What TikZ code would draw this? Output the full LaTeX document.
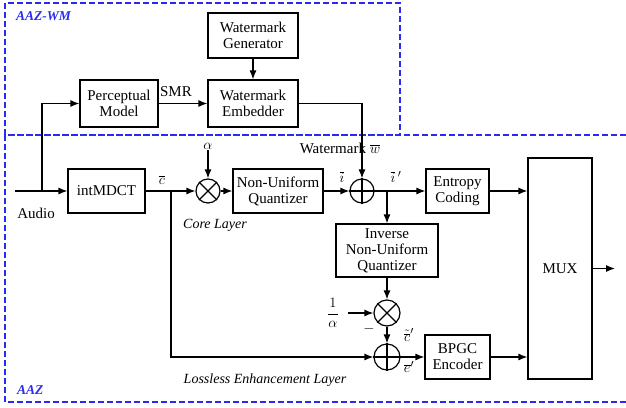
\documentclass[tikz,border=0pt]{standalone}
\usepackage{fontspec}
\setmainfont{Liberation Serif}
\usetikzlibrary{arrows.meta}
\definecolor{myframecolor}{HTML}{2B2BEE}

\begin{document}
\begin{tikzpicture}[x=1pt, y=-1pt,
  blk/.style={draw, line width=1.2pt, rectangle, align=center, inner sep=1pt, font=\fontsize{15pt}{16pt}\selectfont},
  opnode/.style={draw, line width=1.2pt, circle, minimum size=24pt, inner sep=0pt},
  lbl/.style={font=\fontsize{15pt}{16pt}\selectfont, inner sep=1pt},
  itlbl/.style={font=\fontsize{14pt}{15pt}\selectfont\itshape, inner sep=1pt},
  frame/.style={draw=myframecolor, line width=1.1pt, dash pattern=on 6pt off 3pt},
  framelbl/.style={text=myframecolor, font=\fontsize{13.5pt}{14pt}\selectfont\bfseries\itshape, inner sep=0pt},
  sig/.style={line width=1.2pt, -{Latex[length=9pt,width=7pt]}},
  wire/.style={line width=1.2pt}]%
\useasboundingbox (0,0) rectangle (626,407);%
\draw[frame] (5,135) rectangle (400,3);%
\draw[frame] (626,135) -- (5,135) -- (5,402) -- (626,402);%
\node[framelbl, anchor=west] (wmtitle) at (16,16) {AAZ-WM};%
\node[framelbl, anchor=west] (aaztitle) at (17,390) {AAZ};%
\node[blk, minimum width=90pt, minimum height=45pt] (gen) at (253,35.5) {Watermark\\Generator};%
\node[blk, minimum width=78pt, minimum height=47pt] (percep) at (119,103.5) {Perceptual\\Model};%
\node[blk, minimum width=90pt, minimum height=47pt] (embed) at (253,103.5) {Watermark\\Embedder};%
\node[blk, minimum width=77pt, minimum height=44pt] (mdct) at (106.5,191) {intMDCT};%
\node[blk, minimum width=90pt, minimum height=44pt] (nuq) at (278,191) {Non-Uniform\\Quantizer};%
\node[blk, minimum width=63pt, minimum height=44pt] (entropy) at (457.5,191) {Entropy\\Coding};%
\node[blk, minimum width=64pt, minimum height=221pt] (mux) at (560,268.5) {MUX};%
\node[blk, minimum width=102pt, minimum height=53pt] (inuq) at (387,250.5) {Inverse\\Non-Uniform\\Quantizer};%
\node[blk, minimum width=65pt, minimum height=44pt] (bpgc) at (457.5,357) {BPGC\\Encoder};%
\node[opnode] (mul1) at (208,191) {};%
\node[opnode] (add1) at (362,191) {};%
\node[opnode, minimum size=26pt] (mul2) at (387,313) {};%
\node[opnode, minimum size=26pt] (add2) at (387,357) {};%
\draw[wire] (mul1.north west) -- (mul1.south east) (mul1.north east) -- (mul1.south west);%
\draw[wire] (mul2.north west) -- (mul2.south east) (mul2.north east) -- (mul2.south west);%
\draw[wire] (add1.north) -- (add1.south) (add1.west) -- (add1.east);%
\draw[wire] (add2.north) -- (add2.south) (add2.west) -- (add2.east);%
\node[lbl] (alpha) at (208,146) {$\alpha$};%
\node[lbl] (inv) at (333,313) {$\displaystyle\frac{1}{\alpha}$};%
\node[lbl] (audiolbl) at (36,213) {Audio};%
\node[lbl] (smr) at (176,92) {SMR};%
\node[lbl] (wmlbl) at (340,148) {Watermark $\overline{w}$};%
\node[lbl] (cbar) at (162,180) {$\overline{c}$};%
\node[lbl] (ibar) at (342,177) {$\overline{i}$};%
\node[lbl] (ibarp) at (396,177) {$\overline{i}\,'$};%
\node[lbl] (minus) at (369,329) {$-$};%
\node[lbl] (ctil) at (409,335) {$\tilde{\overline{c}}'$};%
\node[lbl] (ebar) at (409,367) {$\overline{e}'$};%
\node[itlbl] (core) at (215,225) {Core Layer};%
\node[itlbl] (lossless) at (265,380) {Lossless Enhancement Layer};%
\coordinate (audio) at (15,191);%
\coordinate (invtip) at (348,313);%
\coordinate (out) at (615,268.5);%
\draw[sig] (audio) -- (mdct.west);%
\draw[sig] (42,191) -- (42,103.5) -- (percep.west);%
\draw[sig] (percep.east) -- (embed.west);%
\draw[sig] (gen.south) -- (embed.north);%
\draw[sig] (embed.east) -| (add1.north);%
\draw[sig] (mdct.east) -- (mul1.west);%
\draw[sig] (alpha.south) -- (mul1.north);%
\draw[sig] (mul1.east) -- (nuq.west);%
\draw[sig] (nuq.east) -- (add1.west);%
\draw[sig] (add1.east) -- (entropy.west);%
\draw[sig] (387,191) -- (inuq.north);%
\draw[sig] (entropy.east) -- (mux.west |- entropy.east);%
\draw[sig] (inuq.south) -- (mul2.north);%
\draw[sig] (invtip) -- (mul2.west);%
\draw[sig] (mul2.south) -- (add2.north);%
\draw[sig] (171,191) |- (add2.west);%
\draw[sig] (add2.east) -- (bpgc.west);%
\draw[sig] (bpgc.east) -- (mux.west |- bpgc.east);%
\draw[sig] (mux.east |- out) -- (out);%
\end{tikzpicture}
\end{document}
